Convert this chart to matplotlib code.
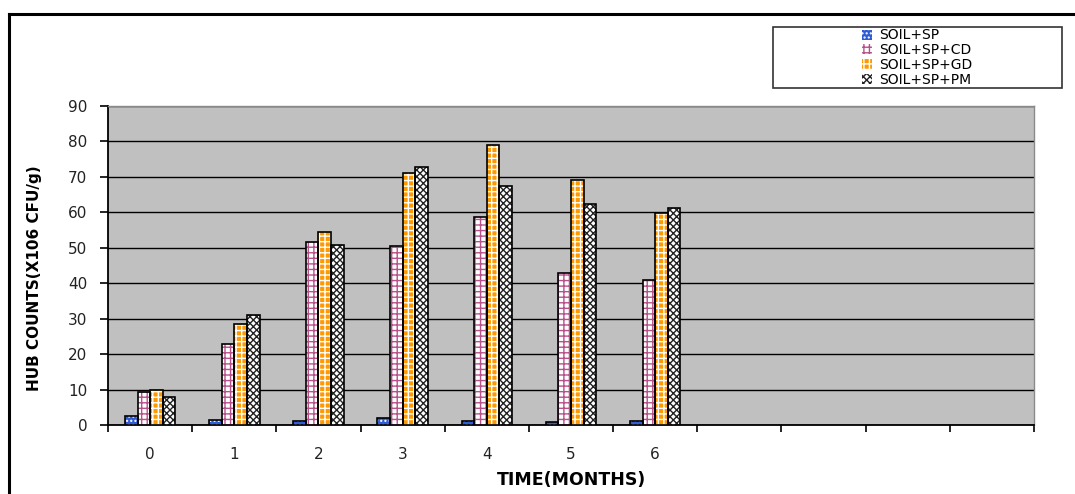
import numpy as np
import matplotlib
matplotlib.use("Agg")
import matplotlib.pyplot as plt
from matplotlib.patches import Rectangle
from matplotlib.lines import Line2D

plt.rcParams['font.family'] = ['DejaVu Sans']
plt.rcParams['hatch.linewidth'] = 1.0

# data
months = ['0', '1', '2', '3', '4', '5', '6']
n_slots = 11  # the category axis runs on past month 6 with empty slots
soil_sp = [2.4, 1.4, 1.0, 2.1, 1.2, 0.9, 1.2]
soil_sp_cd = [9.3, 22.9, 51.6, 50.5, 58.8, 42.8, 41.0]
soil_sp_gd = [9.9, 28.5, 54.4, 71.2, 78.9, 69.1, 59.9]
soil_sp_pm = [7.9, 31.0, 50.8, 72.9, 67.3, 62.4, 61.1]

series_names = ['SOIL+SP', 'SOIL+SP+CD', 'SOIL+SP+GD', 'SOIL+SP+PM']
series_vals = [soil_sp, soil_sp_cd, soil_sp_gd, soil_sp_pm]
# (face colour, hatch colour, hatch)
styles = [
    ('#2e5bd6', 'white', '....'),
    ('white', '#b8508a', '+++'),
    ('#ff9900', 'white', '+++'),
    ('white', '#222222', 'xxxxx'),
]

fig = plt.figure(figsize=(10.75, 4.94), dpi=100)
ax = fig.add_axes([0.1005, 0.1397, 0.8614, 0.6457])
ax.set_facecolor('#c0c0c0')

x = np.arange(len(months))
width = 0.15
offsets = [-0.225, -0.075, 0.075, 0.225]

for vals, off, (fc, hc, hatch) in zip(series_vals, offsets, styles):
    # hatch layer first (hatch uses edgecolor), then black outline on top
    ax.bar(x + off, vals, width, color=fc, edgecolor=hc, hatch=hatch,
           linewidth=0, zorder=3)
    ax.bar(x + off, vals, width, fill=False, edgecolor='black',
           linewidth=1.2, zorder=4)

ax.set_xlim(-0.5, n_slots - 0.5)
ax.set_ylim(0, 90)
ax.set_yticks(np.arange(0, 91, 10))
ax.yaxis.grid(True, color='black', linewidth=1.0, zorder=1)
ax.set_axisbelow(True)

# ticks sit on category boundaries, labels in the middle
ax.set_xticks(np.arange(-0.5, n_slots, 1.0))
ax.set_xticklabels([])
ax.set_xticks(x, minor=True)
ax.set_xticklabels(months, minor=True)
ax.tick_params(axis='x', which='major', direction='out', length=5, width=1.2)
ax.tick_params(axis='x', which='minor', length=0, pad=16, labelsize=11,
               labelcolor='#222222')
ax.tick_params(axis='y', direction='out', length=6, width=1.2, pad=9,
               labelsize=11, labelcolor='#222222')

for side in ['top', 'right']:
    ax.spines[side].set_color('#8a8a8a')
    ax.spines[side].set_linewidth(1.0)
for side in ['left', 'bottom']:
    ax.spines[side].set_color('black')
    ax.spines[side].set_linewidth(1.3)

ax.set_xlabel('TIME(MONTHS)', fontsize=12.5, fontweight='bold')
ax.xaxis.set_label_coords(0.5, -0.145)
ax.set_ylabel('HUB COUNTS(X106 CFU/g)', fontsize=11, fontweight='bold')
ax.yaxis.set_label_coords(-0.071, 0.46)

# legend in a wide box at the top right
handles = []
for name, (fc, hc, hatch) in zip(series_names, styles):
    handles.append(Rectangle((0, 0), 1, 1, facecolor=fc, edgecolor=hc,
                             hatch=hatch, linewidth=0))
box = Rectangle((773 / 1075, 1 - 88 / 494), 289 / 1075, 61 / 494,
                transform=fig.transFigure, fill=False, edgecolor='#333333',
                linewidth=1.2)
fig.patches.append(box)
leg = fig.legend(handles, series_names, loc='center',
                 bbox_to_anchor=(917 / 1075, 1 - 57.5 / 494),
                 frameon=False, fontsize=10, handlelength=0.75,
                 handleheight=0.75, handletextpad=0.45, labelspacing=0.05,
                 borderpad=0)

# chart border (top and left edges show in the crop)
fig.add_artist(Line2D([9 / 1075, 1.0], [1 - 14 / 494, 1 - 14 / 494],
                      transform=fig.transFigure, color='black', linewidth=2.2))
fig.add_artist(Line2D([9 / 1075, 9 / 1075], [0.0, 1 - 14 / 494],
                      transform=fig.transFigure, color='black', linewidth=2.2))

fig.savefig('out.png', dpi=100)
